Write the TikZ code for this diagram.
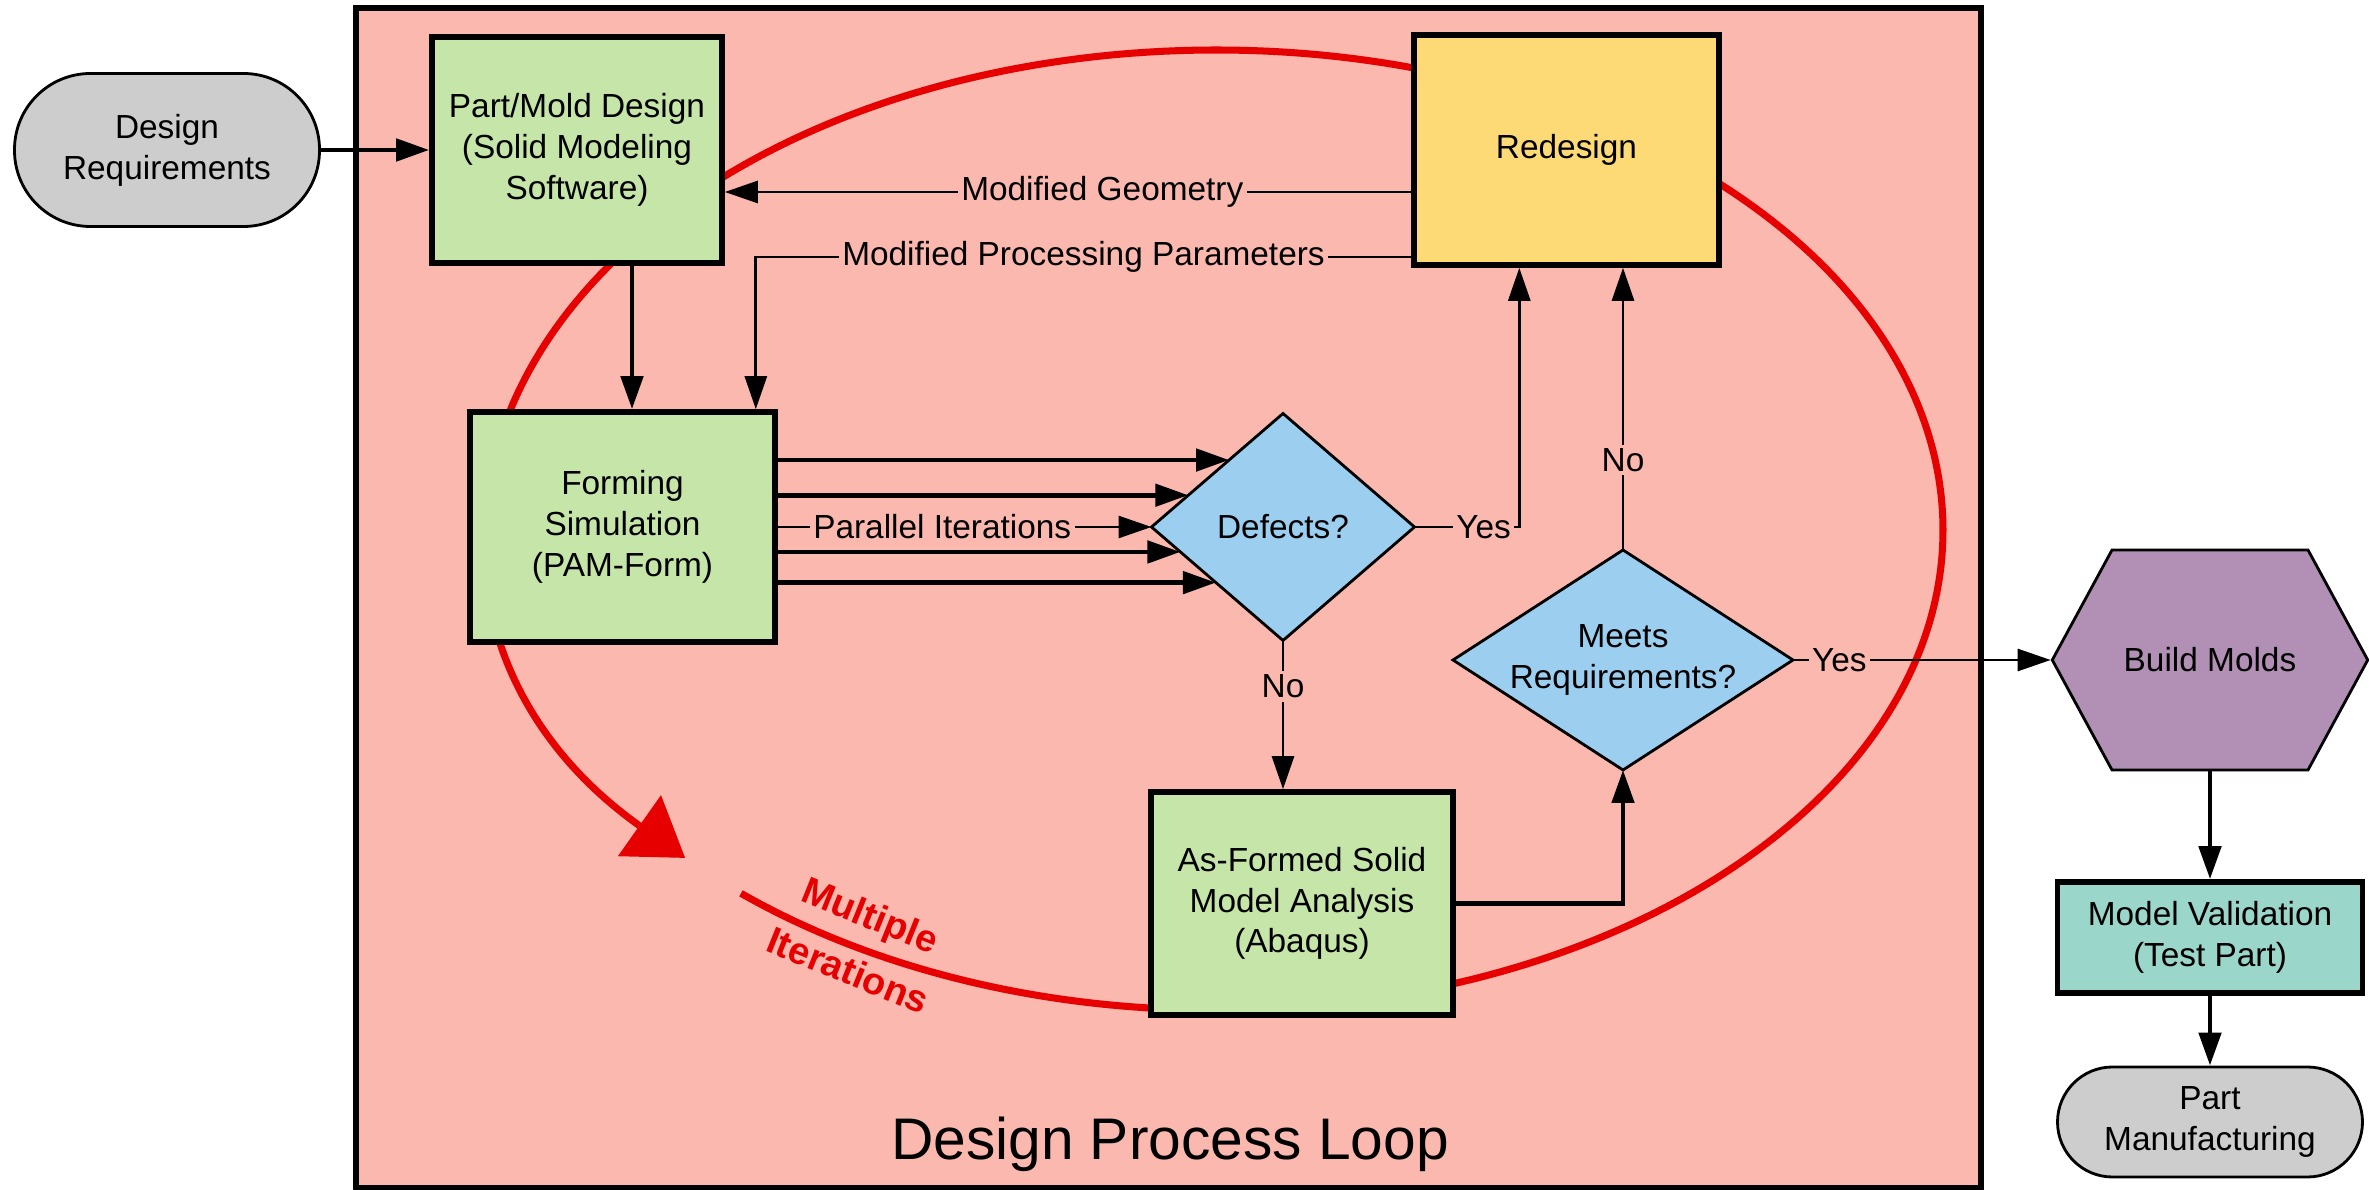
\documentclass[tikz,border=0pt]{standalone}
\usepackage{fontspec}
\setmainfont{Liberation Sans}
\usetikzlibrary{shapes.geometric, shapes.symbols, arrows.meta, calc, positioning}

\definecolor{loopbg}{HTML}{FBB8AE}
\definecolor{boxgreen}{HTML}{C6E5A8}
\definecolor{boxyellow}{HTML}{FEDA76}
\definecolor{boxblue}{HTML}{9CCFEF}
\definecolor{boxpurple}{HTML}{B28FB5}
\definecolor{boxteal}{HTML}{9BD6CB}
\definecolor{boxgray}{HTML}{CDCDCD}
\definecolor{loopred}{HTML}{E60000}

\begin{document}
\begin{tikzpicture}[
    font=\fontsize{9.5}{11.6}\selectfont,
    stepbox/.style={draw, rectangle, line width=1.6pt, fill=boxgreen, minimum width=3.05cm, minimum height=2.3cm, align=center},
    decision/.style={draw, diamond, line width=0.8pt, fill=boxblue, inner sep=0pt, outer sep=0pt, align=center},
    terminal/.style={draw, rectangle, rounded corners=#1, line width=0.8pt, fill=boxgray, minimum width=3.05cm, align=center},
    thickarrow/.style={line width=1.4pt, -{Triangle[length=3.3mm, width=2.2mm]}},
    thinarrow/.style={line width=0.8pt, -{Triangle[length=3.3mm, width=2.2mm]}},
    lbl/.style={fill=loopbg, inner sep=1pt},
    looptext/.style={text=loopred, font=\fontsize{10.8}{17}\selectfont\bfseries, align=center, rotate=-22},
]
    \useasboundingbox (0,0) rectangle (23.69,-11.90);

    % the design loop frame
    \node[draw, line width=1.6pt, fill=loopbg, minimum width=16.25cm, minimum height=11.80cm] (loop) at (11.685,-5.98) {};
    \node[font=\fontsize{16.7}{20}\selectfont, anchor=base] (title) at (11.70,-11.60) {Design Process Loop};

    % red iteration loop
    \coordinate (lc) at (12.16,-5.30);
    \draw[loopred, line width=2pt, -{Triangle[length=5.6mm, width=7.3mm]}]
        ([shift={(229.2:7.27cm and 4.80cm)}]lc) arc[start angle=229.2, end angle=583.1, x radius=7.27cm, y radius=4.80cm];
    \node[looptext] (multi) at (8.595,-9.425) {Multiple\\Iterations};

    % boxes
    \node[terminal=7.6mm, minimum height=1.53cm] (req) at (1.67,-1.50) {Design\\Requirements};
    \node[stepbox, minimum width=2.9cm, minimum height=2.26cm] (pm) at (5.77,-1.50) {Part/Mold Design\\(Solid Modeling\\Software)};
    \node[stepbox, fill=boxyellow] (redes) at (15.665,-1.50) {Redesign};
    \node[stepbox] (fs) at (6.225,-5.27) {Forming\\Simulation\\(PAM-Form)};
    \node[decision, aspect=1.16, minimum width=2.63cm, minimum height=2.27cm] (def) at (12.83,-5.27) {Defects?};
    \node[decision, aspect=1.545, minimum width=3.40cm, minimum height=2.20cm] (meets) at (16.23,-6.60) {Meets\\Requirements?};
    \node[stepbox, minimum width=3.02cm, minimum height=2.23cm] (af) at (13.02,-9.035) {As-Formed Solid\\Model Analysis\\(Abaqus)};
    \node[draw, signal, signal to=west and east, signal pointer angle=123, line width=0.8pt, fill=boxpurple, minimum width=3.05cm, minimum height=2.2cm] (bm) at (22.10,-6.60) {Build Molds};
    \node[stepbox, fill=boxteal, minimum height=1.11cm] (mv) at (22.10,-9.375) {Model Validation\\(Test Part)};
    \node[terminal=5.5mm, minimum height=1.10cm] (mfg) at (22.10,-11.22) {Part\\Manufacturing};

    % main flow
    \draw[thickarrow] (req.east) -- (pm.west);
    \coordinate (pmout) at ([xshift=5.5mm]pm.south);
    \draw[thickarrow] (pmout) -- (pmout |- fs.north);

    % feedback from redesign
    \coordinate (geo) at ([yshift=-4.2mm]redes.west);
    \draw[thinarrow] (geo) -- node[lbl, pos=0.45]{Modified Geometry} (geo -| pm.east);
    \coordinate (par) at ([yshift=-10.7mm]redes.west);
    \draw[thinarrow] (par) -| node[lbl, pos=0.25]{Modified Processing Parameters} ([xshift=-2.2mm]fs.north east);

    % parallel runs
    \foreach \f/\c in {0.59/north, 0.28/north, 0.22/south, 0.49/south}{
        \coordinate (hit) at ($(def.west)!\f!(def.\c)$);
        \draw[thickarrow] (hit -| fs.east) -- (hit);
    }
    \draw[thinarrow] (fs.east) -- node[lbl, pos=0.44]{Parallel Iterations} (def.west);

    % decisions
    \coordinate (yes1) at ($(redes.south west)!0.348!(redes.south east)$);
    \draw[thinarrow] (def.east) -| node[lbl, pos=0.33]{Yes} (yes1);
    \draw[thinarrow] (meets.north) -- node[lbl, pos=0.32]{No} (meets.north |- redes.south);
    \draw[thinarrow] (def.south) -- node[lbl, pos=0.31]{No} (def.south |- af.north);
    \draw[thickarrow] (af.east) -| (meets.south);
    \draw[thinarrow] (meets.east) -- node[lbl, pos=0.18]{Yes} (bm.west);

    % after the loop
    \draw[thickarrow] (bm.south) -- (mv.north);
    \draw[thickarrow] (mv.south) -- (mfg.north);
\end{tikzpicture}
\end{document}
